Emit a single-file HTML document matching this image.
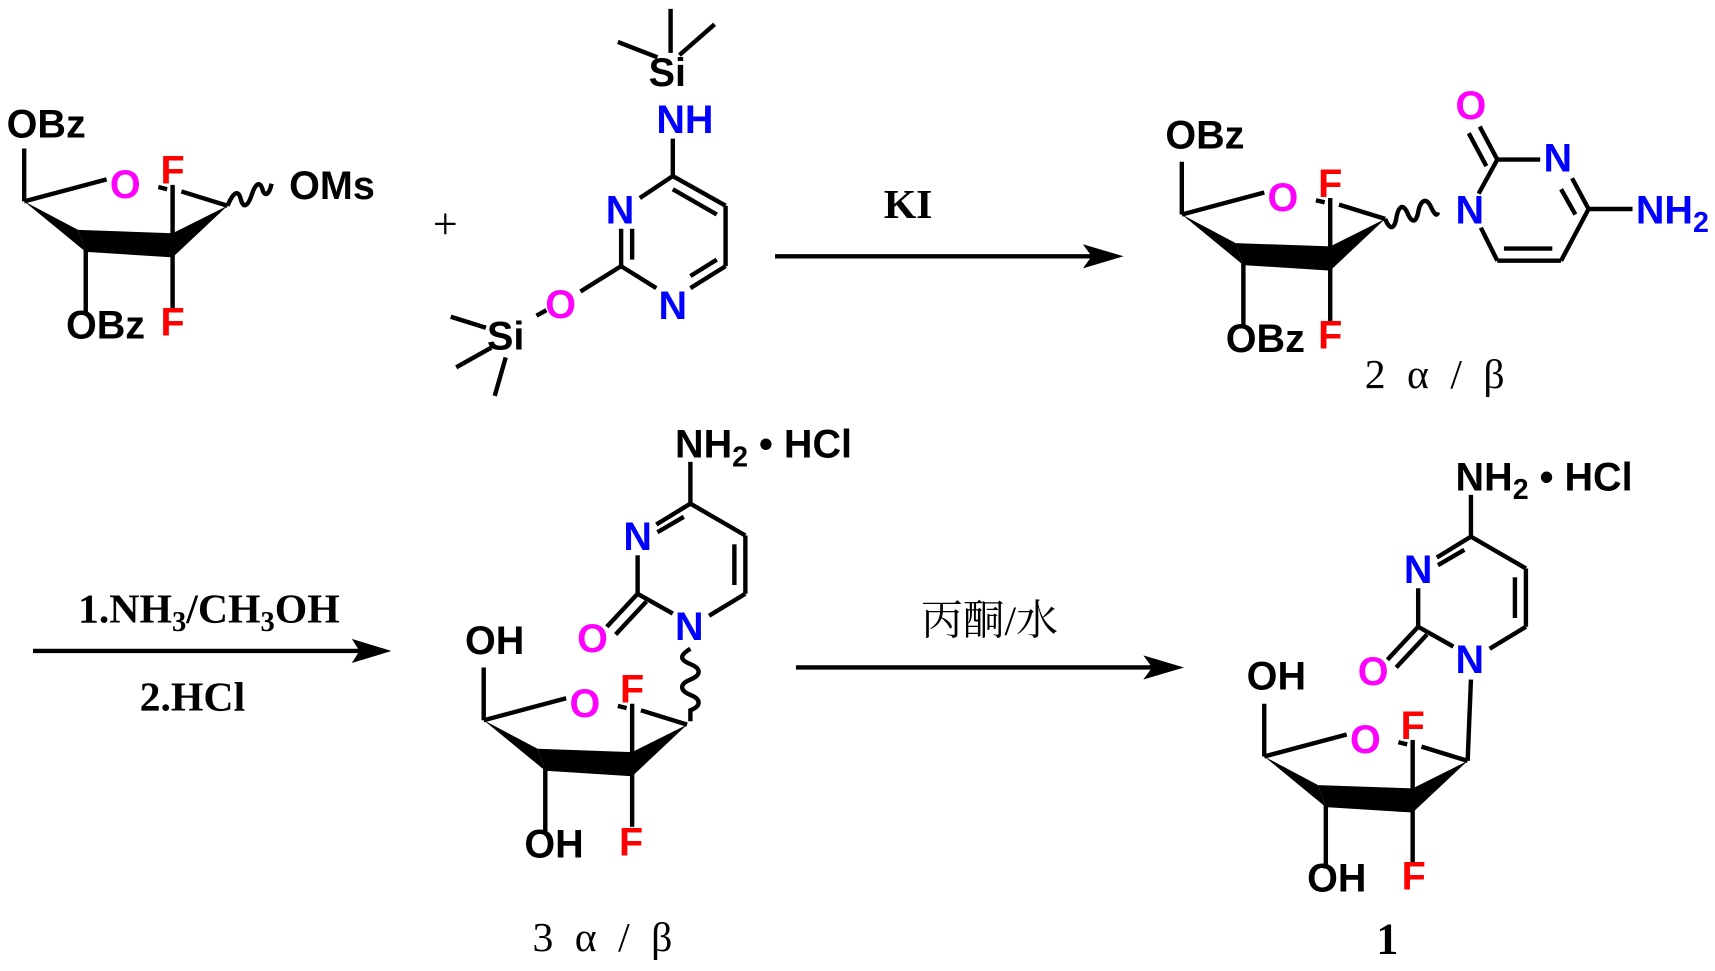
<!DOCTYPE html>
<html><head><meta charset="utf-8"><style>
html,body{margin:0;padding:0;background:#fff;}
svg{display:block;}
.a{font-family:"Liberation Sans",sans-serif;font-weight:bold;font-size:36px;}
.bk{fill:#000}.bl{fill:#0000ff}.mg{fill:#ff00ff}.rd{fill:#ff0000}
.s{font-family:"Liberation Serif","Noto Serif CJK SC",serif;}
line,path.b{stroke:#000;stroke-width:4;fill:none;}
</style></head><body>
<svg width="1715" height="971" viewBox="0 0 1560 883" xmlns="http://www.w3.org/2000/svg">
<defs>
<g id="sug">
  <line x1="0" y1="0" x2="0" y2="-48"/>
  <line x1="0" y1="0" x2="75" y2="-20"/>
  <line x1="122" y1="-13" x2="130" y2="-11"/>
  <line x1="143" y1="-9" x2="185" y2="4"/>
  <line x1="135" y1="-15" x2="135" y2="97"/>
  <polygon points="0,0 49,26 56,46" fill="#000"/>
  <polygon points="49,26 135,29 135,51 56,46" fill="#000"/>
  <polygon points="135,29 185,4 135,51" fill="#000"/>
  <line x1="56" y1="44" x2="56" y2="102"/>
  <text x="78" y="-3" class="a mg">O</text>
  <text x="124" y="-16" class="a rd">F</text>
</g>
<g id="cyt">
  <line x1="628" y1="420" x2="628" y2="458"/>
  <line x1="628" y1="458" x2="597" y2="477"/>
  <line x1="622" y1="470" x2="598" y2="484"/>
  <line x1="628" y1="458" x2="678" y2="487"/>
  <line x1="678" y1="487" x2="678" y2="540"/>
  <line x1="668" y1="495" x2="668" y2="532"/>
  <line x1="678" y1="540" x2="645" y2="560"/>
  <line x1="612" y1="558" x2="580" y2="540"/>
  <line x1="580" y1="540" x2="580" y2="505"/>
  <line x1="580" y1="540" x2="552" y2="570"/>
  <line x1="588" y1="547" x2="560" y2="577"/>
  <text x="567" y="500" class="a bl">N</text>
  <text x="614" y="582" class="a bl">N</text>
  <text x="525" y="593" class="a mg">O</text>
</g>
</defs>

<!-- Compound A -->
<g transform="translate(22,183)"><use href="#sug"/></g>
<text x="6" y="125" class="a bk">OBz</text>
<text x="60" y="308" class="a bk">OBz</text>
<text x="146" y="305" class="a rd">F</text>
<path class="b" d="M207,187 c6,-14 10,-14 12,-6 c2,8 6,8 10,-4 c4,-12 8,-12 10,-4 c2,6 6,4 8,-6"/>
<text x="263" y="181" class="a bk">OMs</text>

<text x="405" y="217" class="s" font-size="40" text-anchor="middle">+</text>

<!-- TMS pyrimidine -->
<line x1="610" y1="48" x2="610" y2="8"/>
<line x1="618" y1="50" x2="650" y2="22"/>
<line x1="598" y1="52" x2="562" y2="38"/>
<text x="590" y="78" class="a bk">Si</text>
<text x="597" y="121" class="a bl">NH</text>
<line x1="612" y1="126" x2="612" y2="160"/>
<line x1="612" y1="160" x2="582" y2="180"/>
<line x1="612" y1="160" x2="660" y2="187"/>
<line x1="612" y1="172" x2="652" y2="195"/>
<line x1="660" y1="187" x2="660" y2="242"/>
<line x1="660" y1="242" x2="628" y2="262"/>
<line x1="652" y1="236" x2="628" y2="251"/>
<line x1="597" y1="262" x2="565" y2="242"/>
<line x1="565" y1="242" x2="565" y2="208"/>
<line x1="575" y1="236" x2="575" y2="208"/>
<line x1="565" y1="242" x2="528" y2="265"/>
<line x1="497" y1="282" x2="488" y2="287"/>
<text x="551" y="203" class="a bl">N</text>
<text x="599" y="290" class="a bl">N</text>
<text x="496" y="289" class="a mg">O</text>
<text x="443" y="318" class="a bk">Si</text>
<line x1="442" y1="298" x2="410" y2="288"/>
<line x1="447" y1="316" x2="415" y2="334"/>
<line x1="460" y1="325" x2="450" y2="360"/>

<!-- arrow 1 -->
<line x1="705" y1="233" x2="995" y2="233"/>
<polygon points="1022,233 985,222 993,233 985,244" fill="#000"/>
<text x="826" y="198" class="s" font-size="38" font-weight="bold" text-anchor="middle">KI</text>

<!-- Compound 2 -->
<g transform="translate(1075,195)"><use href="#sug"/></g>
<text x="1060" y="135" class="a bk">OBz</text>
<text x="1115" y="320" class="a bk">OBz</text>
<text x="1199" y="317" class="a rd">F</text>
<path class="b" d="M1260,199 c4,10 8,10 10,0 c2,-12 6,-14 10,-6 c4,10 8,10 10,0 c2,-12 8,-14 12,-4 c3,6 5,8 6,4"/>
<text x="1324" y="203" class="a bl">N</text>
<line x1="1345" y1="176" x2="1362" y2="145"/>
<line x1="1362" y1="145" x2="1401" y2="145"/>
<line x1="1362" y1="145" x2="1346" y2="115"/>
<line x1="1352" y1="151" x2="1336" y2="121"/>
<text x="1324" y="108" class="a mg">O</text>
<text x="1404" y="156" class="a bl">N</text>
<line x1="1430" y1="162" x2="1445" y2="190"/>
<line x1="1420" y1="172" x2="1433" y2="195"/>
<line x1="1445" y1="190" x2="1485" y2="190"/>
<text x="1488" y="203" class="a bl">NH<tspan font-size="26" dy="8">2</tspan></text>
<line x1="1445" y1="190" x2="1420" y2="237"/>
<line x1="1420" y1="237" x2="1362" y2="237"/>
<line x1="1412" y1="226" x2="1368" y2="226"/>
<line x1="1362" y1="237" x2="1347" y2="207"/>
<text x="1305" y="353" class="s" font-size="38" text-anchor="middle" word-spacing="10">2 α / β</text>

<!-- arrow 2 -->
<line x1="30" y1="592" x2="330" y2="592"/>
<polygon points="356,592 320,581 327,592 320,603" fill="#000"/>
<text x="190" y="566" class="s" font-size="38" font-weight="bold" text-anchor="middle">1.NH<tspan font-size="26" dy="8">3</tspan><tspan dy="-8">/CH</tspan><tspan font-size="26" dy="8">3</tspan><tspan dy="-8">OH</tspan></text>
<text x="175" y="646" class="s" font-size="38" font-weight="bold" text-anchor="middle">2.HCl</text>

<!-- Compound 3 -->
<use href="#cyt"/>
<text x="614" y="416" class="a bk">NH<tspan font-size="26" dy="8">2</tspan><tspan dy="-8"> • HCl</tspan></text>
<path class="b" d="M628,590 c-10,6 -10,10 0,14 c10,4 10,10 0,14 c-10,4 -10,10 0,14 c10,4 10,10 0,14 l0,10"/>
<g transform="translate(440,655)"><use href="#sug"/></g>
<text x="423" y="595" class="a bk">OH</text>
<text x="477" y="780" class="a bk">OH</text>
<text x="563" y="778" class="a rd">F</text>
<text x="548" y="865" class="s" font-size="38" text-anchor="middle" word-spacing="10">3 α / β</text>

<!-- arrow 3 -->
<line x1="724" y1="607" x2="1050" y2="607"/>
<polygon points="1077,607 1040,596 1048,607 1040,618" fill="#000"/>
<text x="900" y="577" class="s" font-size="38" text-anchor="middle">丙酮/水</text>

<!-- Compound 1 -->
<g transform="translate(710,30)"><use href="#cyt"/></g>
<text x="1324" y="446" class="a bk">NH<tspan font-size="26" dy="8">2</tspan><tspan dy="-8"> • HCl</tspan></text>
<line x1="1338" y1="618" x2="1335" y2="692"/>
<g transform="translate(1150,688)"><use href="#sug"/></g>
<text x="1134" y="627" class="a bk">OH</text>
<text x="1189" y="811" class="a bk">OH</text>
<text x="1275" y="809" class="a rd">F</text>
<text x="1262" y="867" class="s" font-size="40" font-weight="bold" text-anchor="middle">1</text>
</svg>
</body></html>
